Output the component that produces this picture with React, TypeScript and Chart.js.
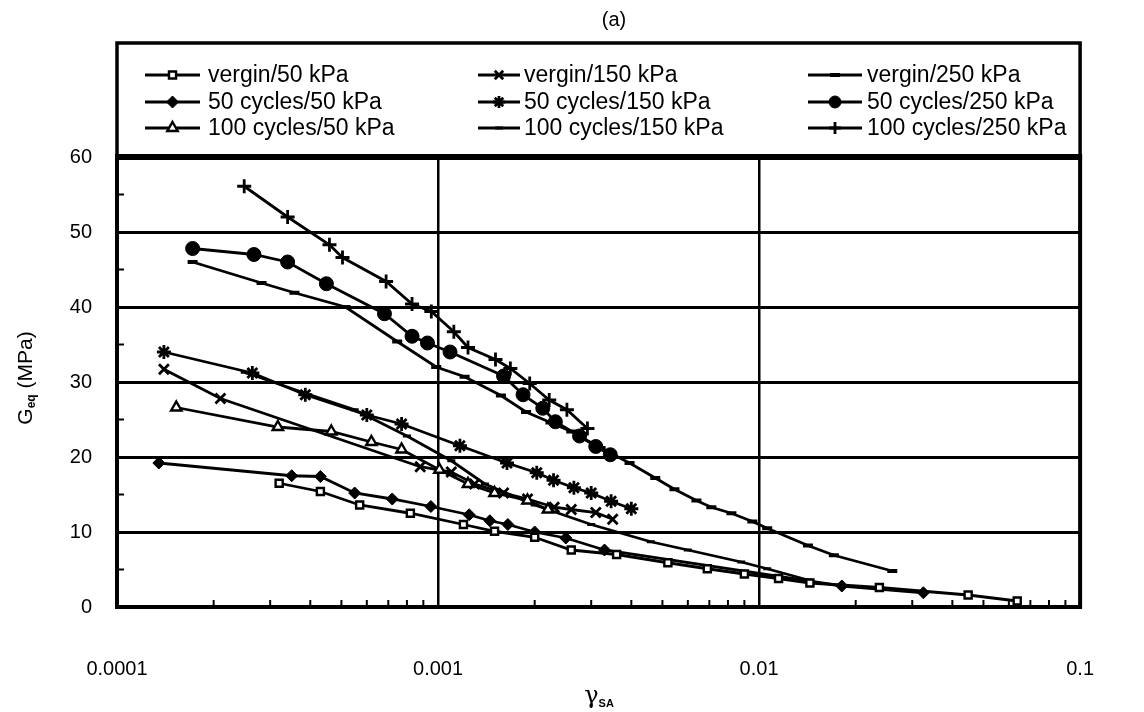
import { useEffect, useRef } from "react";
import { Chart, registerables } from "chart.js";
import { drawPoint } from "chart.js/helpers";

Chart.register(...registerables);

const FONT = '"Liberation Sans", Arial, Helvetica, sans-serif';

// axis ticks
const xTickValues = [0.0001, 0.001, 0.01, 0.1];
const xTickLabels = ["0.0001", "0.001", "0.01", "0.1"];
const yTickValues = [0, 10, 20, 30, 40, 50, 60];

// shear strain amplitude (x) and equivalent shear modulus in MPa (y)
const vergin50X = [0.00032, 0.00043, 0.00057, 0.00082, 0.0012, 0.0015, 0.002, 0.0026, 0.0036, 0.0052, 0.0069, 0.009, 0.0115, 0.0144, 0.0237, 0.0448, 0.0637];
const vergin50Y = [16.5, 15.4, 13.6, 12.5, 11.0, 10.1, 9.3, 7.6, 7.0, 5.9, 5.1, 4.4, 3.8, 3.2, 2.6, 1.6, 0.8];

const cyc50_50X = [0.000135, 0.00035, 0.00043, 0.00055, 0.00072, 0.00095, 0.00125, 0.00145, 0.00165, 0.002, 0.0025, 0.0033, 0.0181, 0.0325];
const cyc50_50Y = [19.2, 17.5, 17.4, 15.2, 14.4, 13.4, 12.3, 11.5, 11.0, 10.0, 9.2, 7.6, 2.8, 1.9];

const cyc100_50X = [0.000153, 0.000317, 0.000465, 0.00062, 0.00077, 0.00101, 0.00124, 0.0015, 0.0019, 0.0022];
const cyc100_50Y = [26.6, 24.0, 23.4, 22.0, 21.0, 18.3, 16.4, 15.2, 14.2, 13.0];

const vergin150X = [0.00014, 0.00021, 0.00088, 0.0011, 0.0013, 0.0016, 0.0019, 0.0023, 0.0026, 0.0031, 0.0035];
const vergin150Y = [31.7, 27.8, 18.7, 18.0, 16.4, 15.2, 14.4, 13.3, 13.0, 12.6, 11.7];

const cyc50_150X = [0.00014, 0.000264, 0.000386, 0.0006, 0.00077, 0.00117, 0.00164, 0.00203, 0.00229, 0.00265, 0.003, 0.00346, 0.004];
const cyc50_150Y = [34.0, 31.2, 28.3, 25.6, 24.4, 21.5, 19.2, 17.9, 16.9, 15.9, 15.2, 14.1, 13.1];

const cyc100_150X = [0.00025, 0.00038, 0.00055, 0.0008, 0.0011, 0.0014, 0.002, 0.003, 0.0046, 0.006, 0.0088, 0.0106, 0.0142];
const cyc100_150Y = [31.3, 28.6, 26.3, 22.8, 19.5, 16.4, 13.6, 11.0, 8.7, 7.6, 6.0, 5.1, 3.6];

const vergin250X = [0.000172, 0.000282, 0.000357, 0.000515, 0.000746, 0.000987, 0.00121, 0.00157, 0.00188, 0.00224, 0.0026, 0.00321, 0.00395, 0.00475, 0.00545, 0.00638, 0.0071, 0.0082, 0.00953, 0.0106, 0.0142, 0.0171, 0.026];
const vergin250Y = [46.0, 43.2, 41.9, 40.0, 35.4, 32.0, 30.7, 28.2, 26.0, 24.6, 23.4, 21.2, 19.2, 17.2, 15.7, 14.2, 13.3, 12.5, 11.4, 10.5, 8.2, 6.9, 4.8];

const cyc50_250X = [0.000172, 0.000267, 0.00034, 0.000449, 0.000681, 0.00083, 0.000927, 0.00109, 0.0016, 0.00184, 0.00212, 0.00232, 0.00276, 0.0031, 0.00344];
const cyc50_250Y = [47.8, 47.0, 46.0, 43.1, 39.1, 36.1, 35.2, 34.0, 30.8, 28.3, 26.5, 24.7, 22.8, 21.4, 20.3];

const cyc100_250X = [0.000249, 0.00034, 0.000459, 0.000504, 0.000689, 0.00083, 0.000953, 0.00112, 0.00124, 0.00151, 0.00168, 0.00193, 0.00222, 0.00252, 0.00292];
const cyc100_250Y = [56.1, 52.0, 48.3, 46.6, 43.4, 40.4, 39.4, 36.7, 34.6, 33.0, 31.8, 29.8, 27.6, 26.3, 23.8];

const seriesLabels = [
  "vergin/50 kPa", "50 cycles/50 kPa", "100 cycles/50 kPa",
  "vergin/150 kPa", "50 cycles/150 kPa", "100 cycles/150 kPa",
  "vergin/250 kPa", "50 cycles/250 kPa", "100 cycles/250 kPa",
];
const seriesX = [vergin50X, cyc50_50X, cyc100_50X, vergin150X, cyc50_150X, cyc100_150X, vergin250X, cyc50_250X, cyc100_250X];
const seriesY = [vergin50Y, cyc50_50Y, cyc100_50Y, vergin150Y, cyc50_150Y, cyc100_150Y, vergin250Y, cyc50_250Y, cyc100_250Y];

type Marker = { pointStyle: any; radius: number; fill: string; borderWidth: number };
const markers: Marker[] = [
  { pointStyle: "rect", radius: 5, fill: "#fff", borderWidth: 2.4 },
  { pointStyle: "rectRot", radius: 6, fill: "#000", borderWidth: 1 },
  { pointStyle: "triangle", radius: 6, fill: "#fff", borderWidth: 2.4 },
  { pointStyle: "crossRot", radius: 7, fill: "#000", borderWidth: 2.8 },
  { pointStyle: "star", radius: 7, fill: "#000", borderWidth: 2.8 },
  { pointStyle: "line", radius: 4, fill: "#000", borderWidth: 3 },
  { pointStyle: "line", radius: 5, fill: "#000", borderWidth: 4 },
  { pointStyle: "circle", radius: 7, fill: "#000", borderWidth: 1 },
  { pointStyle: "cross", radius: 7, fill: "#000", borderWidth: 2.8 },
];

// legend placement: three columns of three entries, filled column by column
const legendCols = [
  { x1: 145, x2: 200, text: 208 },
  { x1: 478, x2: 520, text: 524 },
  { x1: 808, x2: 862, text: 867 },
];
const legendRows = [75, 102, 128];

const framePlugin = {
  id: "frame",
  afterDraw(chart: any) {
    const { ctx, chartArea } = chart;
    const { left, right, top, bottom } = chartArea;
    const xs = chart.scales.x;
    const ys = chart.scales.y;
    ctx.save();
    ctx.strokeStyle = "#000";
    ctx.fillStyle = "#000";
    ctx.lineCap = "butt";

    // minor ticks on the bottom axis
    ctx.lineWidth = 2;
    for (let d = -4; d < -1; d++) {
      for (let m = 2; m <= 9; m++) {
        const px = xs.getPixelForValue(m * Math.pow(10, d));
        ctx.beginPath();
        ctx.moveTo(px, bottom);
        ctx.lineTo(px, bottom - 7);
        ctx.stroke();
      }
    }
    // minor ticks on the left axis
    for (let v = 5; v < 60; v += 10) {
      const py = ys.getPixelForValue(v);
      ctx.beginPath();
      ctx.moveTo(left, py);
      ctx.lineTo(left + 7, py);
      ctx.stroke();
    }

    // plot frame
    ctx.lineWidth = 4;
    ctx.strokeRect(left, top, right - left, bottom - top);
    ctx.lineWidth = 6;
    ctx.beginPath();
    ctx.moveTo(left - 2, top);
    ctx.lineTo(right + 2, top);
    ctx.stroke();

    // legend box
    const boxTop = 43;
    ctx.lineWidth = 3.5;
    ctx.beginPath();
    ctx.moveTo(left, top);
    ctx.lineTo(left, boxTop);
    ctx.lineTo(right, boxTop);
    ctx.lineTo(right, top);
    ctx.stroke();

    // legend entries
    ctx.font = `23px ${FONT}`;
    ctx.textBaseline = "middle";
    ctx.textAlign = "left";
    seriesLabels.forEach((label, i) => {
      const col = legendCols[Math.floor(i / 3)];
      const y = legendRows[i % 3];
      ctx.lineWidth = 2.8;
      ctx.strokeStyle = "#000";
      ctx.beginPath();
      ctx.moveTo(col.x1, y);
      ctx.lineTo(col.x2, y);
      ctx.stroke();
      const mk = markers[i];
      ctx.fillStyle = mk.fill;
      ctx.strokeStyle = "#000";
      ctx.lineWidth = mk.borderWidth;
      drawPoint(ctx, { pointStyle: mk.pointStyle, radius: Math.min(mk.radius, 6), rotation: 0, borderWidth: mk.borderWidth }, (col.x1 + col.x2) / 2, y);
      ctx.fillStyle = "#000";
      ctx.fillText(label, col.text, y + 1);
    });

    // chart caption
    ctx.font = `20px ${FONT}`;
    ctx.textAlign = "center";
    ctx.fillText("(a)", 614, 20);

    // x-axis title: gamma with subscript SA
    const tx = (left + right) / 2;
    const ty = 697;
    ctx.font = `24px "DejaVu Serif", serif`;
    ctx.textAlign = "right";
    ctx.fillText("\u03b3", tx, ty);
    ctx.font = `bold 11px ${FONT}`;
    ctx.textAlign = "left";
    ctx.fillText("SA", tx, ty + 7);

    // y-axis title: G with subscript eq, then unit
    ctx.translate(26, 378);
    ctx.rotate(-Math.PI / 2);
    const g = "G";
    const rest = " (MPa)";
    ctx.font = `21px ${FONT}`;
    const gw = ctx.measureText(g).width;
    ctx.font = `bold 12px ${FONT}`;
    const sw = ctx.measureText("eq").width;
    ctx.font = `21px ${FONT}`;
    const rw = ctx.measureText(rest).width;
    const total = gw + sw + rw;
    let cx = -total / 2;
    ctx.textAlign = "left";
    ctx.fillText(g, cx, 0);
    cx += gw;
    ctx.font = `bold 12px ${FONT}`;
    ctx.fillText("eq", cx, 6);
    cx += sw;
    ctx.font = `21px ${FONT}`;
    ctx.fillText(rest, cx, 0);
    ctx.restore();
  },
};

export default function App() {
  const canvasRef = useRef<HTMLCanvasElement | null>(null);

  useEffect(() => {
    document.body.style.margin = "0";
    const canvas = canvasRef.current;
    if (!canvas) return;

    const datasets = seriesLabels.map((label, i) => {
      const mk = markers[i];
      return {
        label,
        data: seriesX[i].map((x, j) => ({ x, y: seriesY[i][j] })),
        borderColor: "#000",
        backgroundColor: mk.fill,
        borderWidth: 2.8,
        pointStyle: mk.pointStyle,
        pointRadius: mk.radius,
        pointBorderWidth: mk.borderWidth,
        pointBorderColor: "#000",
        pointBackgroundColor: mk.fill,
        tension: 0,
        fill: false,
      };
    });

    const chart = new Chart(canvas, {
      type: "line",
      data: { datasets },
      plugins: [framePlugin],
      options: {
        responsive: false,
        animation: false,
        devicePixelRatio: 1,
        layout: { padding: { left: 0, right: 32, top: 157, bottom: 0 } },
        plugins: {
          legend: { display: false },
          tooltip: { enabled: false },
          title: { display: false },
        },
        scales: {
          x: {
            type: "logarithmic",
            min: 0.0001,
            max: 0.1,
            afterBuildTicks: (scale: any) => {
              scale.ticks = xTickValues.map((value) => ({ value }));
            },
            afterFit: (scale: any) => {
              scale.height = 105;
            },
            ticks: {
              autoSkip: false,
              maxRotation: 0,
              padding: 50,
              color: "#000",
              font: { family: FONT, size: 20 },
              callback: (value: any) => {
                const idx = xTickValues.findIndex((v) => Math.abs(v - value) / v < 1e-6);
                return idx >= 0 ? xTickLabels[idx] : "";
              },
            },
            grid: { color: "#000", lineWidth: 2.5, drawTicks: false },
            border: { display: false },
          },
          y: {
            type: "linear",
            min: 0,
            max: 60,
            afterBuildTicks: (scale: any) => {
              scale.ticks = yTickValues.map((value) => ({ value }));
            },
            afterFit: (scale: any) => {
              scale.width = 117;
            },
            ticks: {
              padding: 25,
              color: "#000",
              font: { family: FONT, size: 20 },
            },
            grid: { color: "#000", lineWidth: 3, drawTicks: false },
            border: { display: false },
          },
        },
      },
    });

    return () => chart.destroy();
  }, []);

  return <canvas ref={canvasRef} width={1144} height={712} style={{ display: "block" }} />;
}
